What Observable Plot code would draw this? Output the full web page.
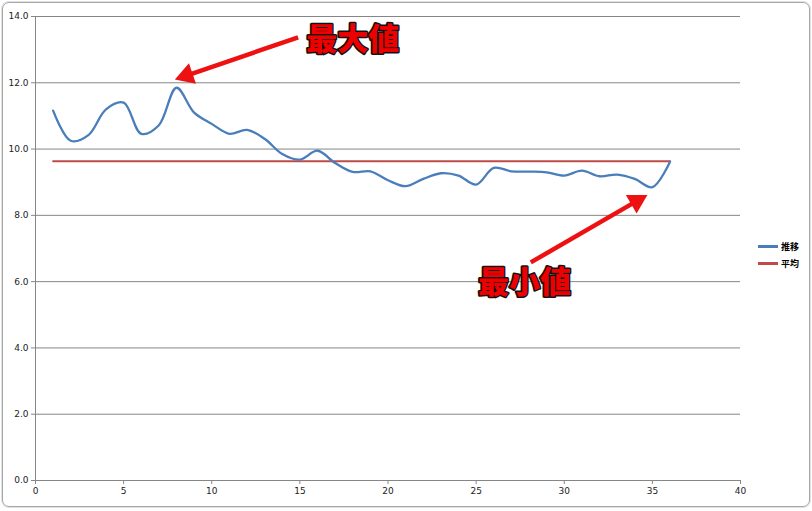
<!DOCTYPE html>
<html>
<head>
<meta charset="utf-8">
<script src="https://cdn.jsdelivr.net/npm/d3@7"></script>
<script src="https://cdn.jsdelivr.net/npm/@observablehq/plot@0.6"></script>
<style>
  html, body { margin: 0; padding: 0; background: #fff; }
  #wrap { position: relative; width: 812px; height: 511px; overflow: hidden; font-family: "Noto Sans CJK JP", "DejaVu Sans", sans-serif; }
  #frame { position: absolute; left: 2px; top: 2px; right: 2px; bottom: 4px; border: 1px solid #a6a6a6; border-radius: 7px; box-shadow: 0 0 0 1px #e2e2e2; }
  #chart { position: absolute; left: 0; top: 0; }
  #legend { position: absolute; left: 758px; top: 238px; font-size: 9px; font-weight: bold; color: #000; line-height: 17px; }
  .li { display: flex; align-items: center; }
  .sw { width: 20px; height: 2.5px; margin-right: 3px; }
</style>
</head>
<body>
<div id="wrap">
  <div id="frame"></div>
  <div id="chart"></div>
  <div id="legend"></div>
</div>
<script>
// Data
const xs = [1,2,3,4,5,6,7,8,9,10,11,12,13,14,15,16,17,18,19,20,21,22,23,24,25,26,27,28,29,30,31,32,33,34,35,36];
const trend = [11.16,10.25,10.42,11.2,11.4,10.46,10.72,11.85,11.1,10.76,10.46,10.58,10.31,9.85,9.68,9.95,9.58,9.31,9.33,9.06,8.88,9.1,9.27,9.2,8.93,9.43,9.33,9.32,9.3,9.2,9.35,9.18,9.23,9.1,8.85,9.62];
const average = 9.63;
const seriesNames = ["推移", "平均"];
const seriesColors = ["#4a7ebb", "#be4b48"];
const xTicks = [0,5,10,15,20,25,30,35,40];
const yTicks = [0,2,4,6,8,10,12,14];
// Annotations (data coordinates)
const noteLabels = ["最大値", "最小値"];
const noteX = [18.0, 27.75];
const noteY = [13.3, 5.97];
const arrowX1 = [14.9, 28.1];
const arrowY1 = [13.37, 6.58];
const arrowX2 = [8.25, 34.4];
const arrowY2 = [12.16, 8.52];

const trendData = xs.map((x, i) => ({x, y: trend[i]}));
const avgData = xs.map(x => ({x, y: average}));
const notes = noteLabels.map((t, i) => ({t, x: noteX[i], y: noteY[i]}));

function build(heads, shafts) {
  return Plot.plot({
    width: 812,
    height: 511,
    marginLeft: 35,
    marginRight: 72,
    marginTop: 16,
    marginBottom: 31,
    style: {background: "transparent", fontFamily: "DejaVu Sans, sans-serif", fontSize: "9px", color: "#222"},
    x: {domain: [0, 40]},
    y: {domain: [0, 14]},
    marks: [
      Plot.gridY(yTicks, {stroke: "#868686", strokeOpacity: 1, strokeWidth: 1}),
      Plot.axisX(xTicks, {tickSize: 4, tickPadding: 3, stroke: "#868686", fontSize: 9, fill: "#222"}),
      Plot.axisY(yTicks, {tickSize: 4, tickPadding: 3, stroke: "#868686", tickFormat: d => d.toFixed(1), fontSize: 9, fill: "#222"}),
      Plot.ruleX([0], {stroke: "#868686"}),
      Plot.ruleY([0], {stroke: "#868686"}),
      Plot.line(avgData, {x: "x", y: "y", stroke: seriesColors[1], strokeWidth: 2}),
      Plot.line(trendData, {x: "x", y: "y", stroke: seriesColors[0], strokeWidth: 2.3, curve: "catmull-rom"}),
      Plot.link(shafts, {x1: "x1", y1: "y1", x2: "x2", y2: "y2", stroke: "#ee1111", strokeWidth: 4.5}),
      Plot.dot(heads, {x: "x", y: "y", symbol: "triangle", r: 8, fill: "#ee1111", stroke: "none", rotate: "a"}),
      Plot.text(notes, {x: "x", y: "y", text: "t", fill: "#ee0000", stroke: "#111", strokeWidth: 3, paintOrder: "stroke", fontSize: 31, fontWeight: 900, fontFamily: "Noto Sans CJK JP, sans-serif"})
    ]
  });
}

// First pass to obtain scales, then compute filled arrowheads in pixel space.
const probe = build([], []);
const sx = probe.scale("x"), sy = probe.scale("y");
const heads = [], shafts = [];
noteLabels.forEach((_, i) => {
  const px1 = sx.apply(arrowX1[i]), py1 = sy.apply(arrowY1[i]);
  const px2 = sx.apply(arrowX2[i]), py2 = sy.apply(arrowY2[i]);
  const dx = px2 - px1, dy = py2 - py1, L = Math.hypot(dx, dy);
  const ux = dx / L, uy = dy / L;
  const hx = px2 - ux * 6, hy = py2 - uy * 6;
  const ex = px2 - ux * 9, ey = py2 - uy * 9;
  heads.push({x: sx.invert(hx), y: sy.invert(hy), a: Math.atan2(dx, -dy) * 180 / Math.PI});
  shafts.push({x1: arrowX1[i], y1: arrowY1[i], x2: sx.invert(ex), y2: sy.invert(ey)});
});
const chart = build(heads, shafts);
document.getElementById("chart").appendChild(chart);

const legend = document.getElementById("legend");
seriesNames.forEach((n, i) => {
  const row = document.createElement("div");
  row.className = "li";
  const sw = document.createElement("div");
  sw.className = "sw";
  sw.style.background = seriesColors[i];
  const tx = document.createElement("span");
  tx.textContent = n;
  row.appendChild(sw);
  row.appendChild(tx);
  legend.appendChild(row);
});
</script>
</body>
</html>
